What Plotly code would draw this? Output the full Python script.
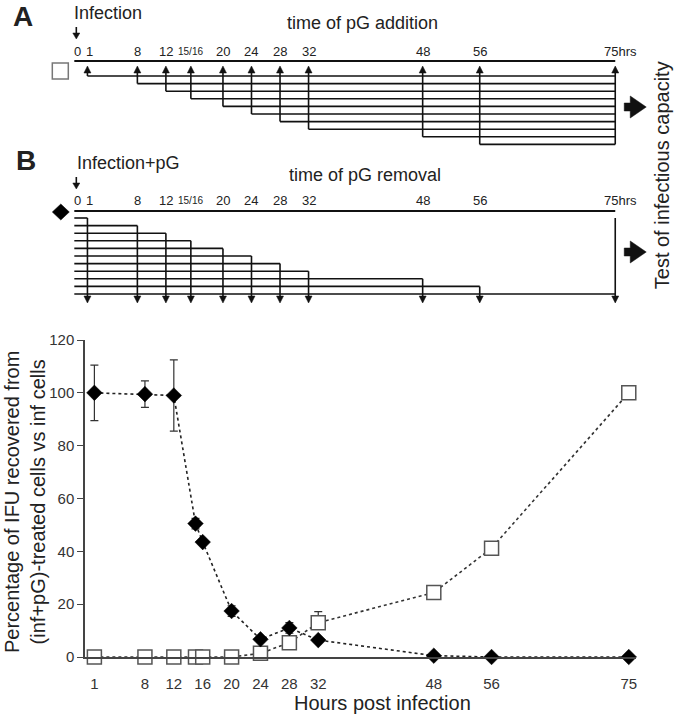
import plotly.graph_objects as go

# ---------------- data ----------------
hours = [1, 8, 12, 15, 16, 20, 24, 28, 32, 48, 56, 75]
removal_pct = [100, 99.5, 99, 50.5, 43.5, 17.4, 6.7, 11, 6.4, 0.5, 0, 0]      # filled diamonds
removal_err = [10.5, 5, 13.5, 2, 1, 2, 1, 2, 1, 0, 0, 0]
addition_pct = [0, 0, 0, 0, 0, 0, 1.4, 5.4, 13, 24.4, 41.2, 100]            # open squares
addition_err_plus = [0, 0, 0, 0, 0, 0, 0, 2, 4.2, 0, 0, 0]
addition_err_minus = [0, 0, 0, 0, 0, 0, 0, 2, 2, 0, 0, 0]
x_tick_vals = [1, 8, 12, 16, 20, 24, 28, 32, 48, 56, 75]
y_tick_vals = [0, 20, 40, 60, 80, 100, 120]

sched_hours = [1, 8, 12, 15.5, 20, 24, 28, 32, 48, 56, 75]
sched_labels = ["1", "8", "12", "15/16", "20", "24", "28", "32", "48", "56", "75hrs"]

# ---------------- layout constants ----------------
W, H = 680, 718
FONT = "Liberation Sans, Arial, sans-serif"
TXT = "#222222"
L, R, T, B = 85, 636, 340, 657
X2_RANGE = [-11.26, 84.08]
PXH = W / (X2_RANGE[1] - X2_RANGE[0])   # pixels per hour on schematic axis


def off(h, dpx):
    return h + dpx / PXH


fig = go.Figure()

# ---------------- main chart ----------------
fig.add_trace(go.Scatter(
    x=hours, y=addition_pct, mode="lines+markers",
    line=dict(color="#333333", width=1.6, dash="3px,3px"),
    marker=dict(symbol="square", size=14, color="white", line=dict(color="#555555", width=1.5)),
    error_y=dict(type="data", array=addition_err_plus, arrayminus=addition_err_minus,
                 color="#333333", thickness=1.2, width=4),
    cliponaxis=False, showlegend=False))
fig.add_trace(go.Scatter(
    x=hours, y=removal_pct, mode="lines+markers",
    line=dict(color="#222222", width=1.6, dash="3px,3px"),
    marker=dict(symbol="diamond", size=12, color="black", line=dict(color="black", width=0.5)),
    error_y=dict(type="data", array=removal_err, color="#333333", thickness=1.2, width=4),
    cliponaxis=False, showlegend=False))

# invisible trace on schematic axes
fig.add_trace(go.Scatter(x=[], y=[], xaxis="x2", yaxis="y2", showlegend=False))

shapes = []


def line(x0, y0, x1, y1, w=1.6, color="#111111"):
    shapes.append(dict(type="line", xref="x2", yref="y2", x0=x0, y0=y0, x1=x1, y1=y1,
                       line=dict(color=color, width=w), layer="above"))


def tri(h, ybase, ytip, half=3.5):
    shapes.append(dict(type="path", xref="x2", yref="y2",
                       path=f"M {off(h, -half)},{ybase} L {off(h, half)},{ybase} L {h},{ytip} Z",
                       fillcolor="#111111", line=dict(color="#111111", width=0.5), layer="above"))


def big_arrow(yc):
    h = sched_hours[-1]
    shapes.append(dict(type="path", xref="x2", yref="y2",
                       path=(f"M {off(h, 9)},{yc - 4} L {off(h, 15)},{yc - 4} L {off(h, 15)},{yc - 11} "
                             f"L {off(h, 31)},{yc} L {off(h, 15)},{yc + 11} L {off(h, 15)},{yc + 4} "
                             f"L {off(h, 9)},{yc + 4} Z"),
                       fillcolor="#111111", line=dict(color="#111111", width=0.5), layer="above"))


annots = []


def text(x, y, s, size, xanchor="center", bold=False, angle=0, xref="x2", yref="y2"):
    annots.append(dict(x=x, y=y, xref=xref, yref=yref, text=f"<b>{s}</b>" if bold else s,
                       showarrow=False, xanchor=xanchor, yanchor="middle", textangle=angle,
                       font=dict(family=FONT, size=size, color=TXT)))


h_end = sched_hours[-1]
t_start = off(0, -6)
STEP = 7.6


def tick_labels(y):
    for h, lab in zip(sched_hours, sched_labels):
        if lab.endswith("hrs"):
            text(off(h, -13), y, lab, 13, xanchor="left")
        elif "/" in lab:
            text(h, y, lab, 10)
        else:
            text(off(h, 2) if h == 1 else h, y, lab, 13)
    text(off(0, -3), y, "0", 13)


# ---------------- panel A ----------------
text(off(0, -57), 16, "A", 28, bold=True)
text(off(0, -8), 13, "Infection", 18, xanchor="left")
text(39.5, 23, "time of pG addition", 18)
line(off(0, -4), 27, off(0, -4), 33)
tri(off(0, -4), 33, 39)
tick_labels(51)
line(t_start, 61, h_end, 61, w=2)
shapes.append(dict(type="rect", xref="x2", yref="y2", x0=off(0, -28), x1=off(0, -12), y0=63, y1=79,
                   line=dict(color="#777777", width=1.5), fillcolor="white", layer="above"))
A_TIP, A_BASE, A_ROW0 = 66, 73, 76
for i, h in enumerate(sched_hours[:-1]):
    y = A_ROW0 + STEP * i
    line(h, y, h, A_BASE)
    line(h, y, h_end, y)
    tri(h, A_BASE, A_TIP)
line(h_end, A_ROW0 + STEP * (len(sched_hours) - 2), h_end, A_BASE)
tri(h_end, A_BASE, A_TIP)
big_arrow(107)

# ---------------- panel B ----------------
text(off(0, -54), 160, "B", 28, bold=True)
text(off(0, -5), 163, "Infection+pG", 18, xanchor="left")
text(39.9, 175, "time of pG removal", 18)
line(off(0, -4), 177, off(0, -4), 183)
tri(off(0, -4), 183, 189)
tick_labels(200)
line(t_start, 211, h_end, 211, w=2)
shapes.append(dict(type="path", xref="x2", yref="y2",
                   path=(f"M {off(0, -28)},212 L {off(0, -19.5)},204 L {off(0, -11)},212 "
                         f"L {off(0, -19.5)},220 Z"),
                   fillcolor="black", line=dict(color="black", width=0.5), layer="above"))
B_ROW0, B_BASE, B_TIP = 218, 296, 303
for i, h in enumerate(sched_hours):
    y = B_ROW0 + STEP * i
    line(t_start, y, h, y)
    line(h, B_ROW0 if h == h_end else y, h, B_BASE)
    tri(h, B_BASE, B_TIP)
big_arrow(252)

text(off(h_end, 47), 175, "Test of infectious capacity", 20, angle=-90)

# ---------------- main chart titles ----------------
text(25 / W, 1 - 502 / H, "Percentage of IFU recovered from<br>(inf+pG)-treated cells vs inf cells",
     20, angle=-90, xref="paper", yref="paper")
text(382 / W, 1 - 703 / H, "Hours post infection", 20, xref="paper", yref="paper")

fig.update_layout(
    width=W, height=H, margin=dict(l=0, r=0, t=0, b=0, pad=0), autosize=False,
    paper_bgcolor="white", plot_bgcolor="rgba(0,0,0,0)",
    font=dict(family=FONT, color=TXT),
    shapes=shapes, annotations=annots,
    xaxis=dict(domain=[L / W, R / W], range=[-0.3, 76.0], tickvals=x_tick_vals,
               ticks="", showline=True, linecolor="#444444", linewidth=1.5,
               showgrid=False, zeroline=False, tickfont=dict(size=15, color="#333333"),
               ticklabelstandoff=12, anchor="y", automargin=False),
    yaxis=dict(domain=[1 - B / H, 1 - T / H], range=[0, 120], tickvals=y_tick_vals,
               ticks="outside", ticklen=6, tickcolor="#444444", tickwidth=1.3,
               showline=True, linecolor="#444444", linewidth=1.5, automargin=False,
               showgrid=False, zeroline=False, tickfont=dict(size=15, color="#333333"), anchor="x"),
    xaxis2=dict(domain=[0, 1], range=X2_RANGE, visible=False, anchor="y2", fixedrange=True,
                automargin=False),
    yaxis2=dict(domain=[0, 1], range=[H, 0], visible=False, anchor="x2", fixedrange=True,
                automargin=False),
)

fig.write_html(
    "out.html",
    config={"displayModeBar": False},
    post_script=("document.documentElement.style.margin='0';document.body.style.margin='0';"
                 "document.body.style.padding='0';document.body.style.overflow='hidden';"
                 "document.documentElement.style.overflow='hidden';"),
)
